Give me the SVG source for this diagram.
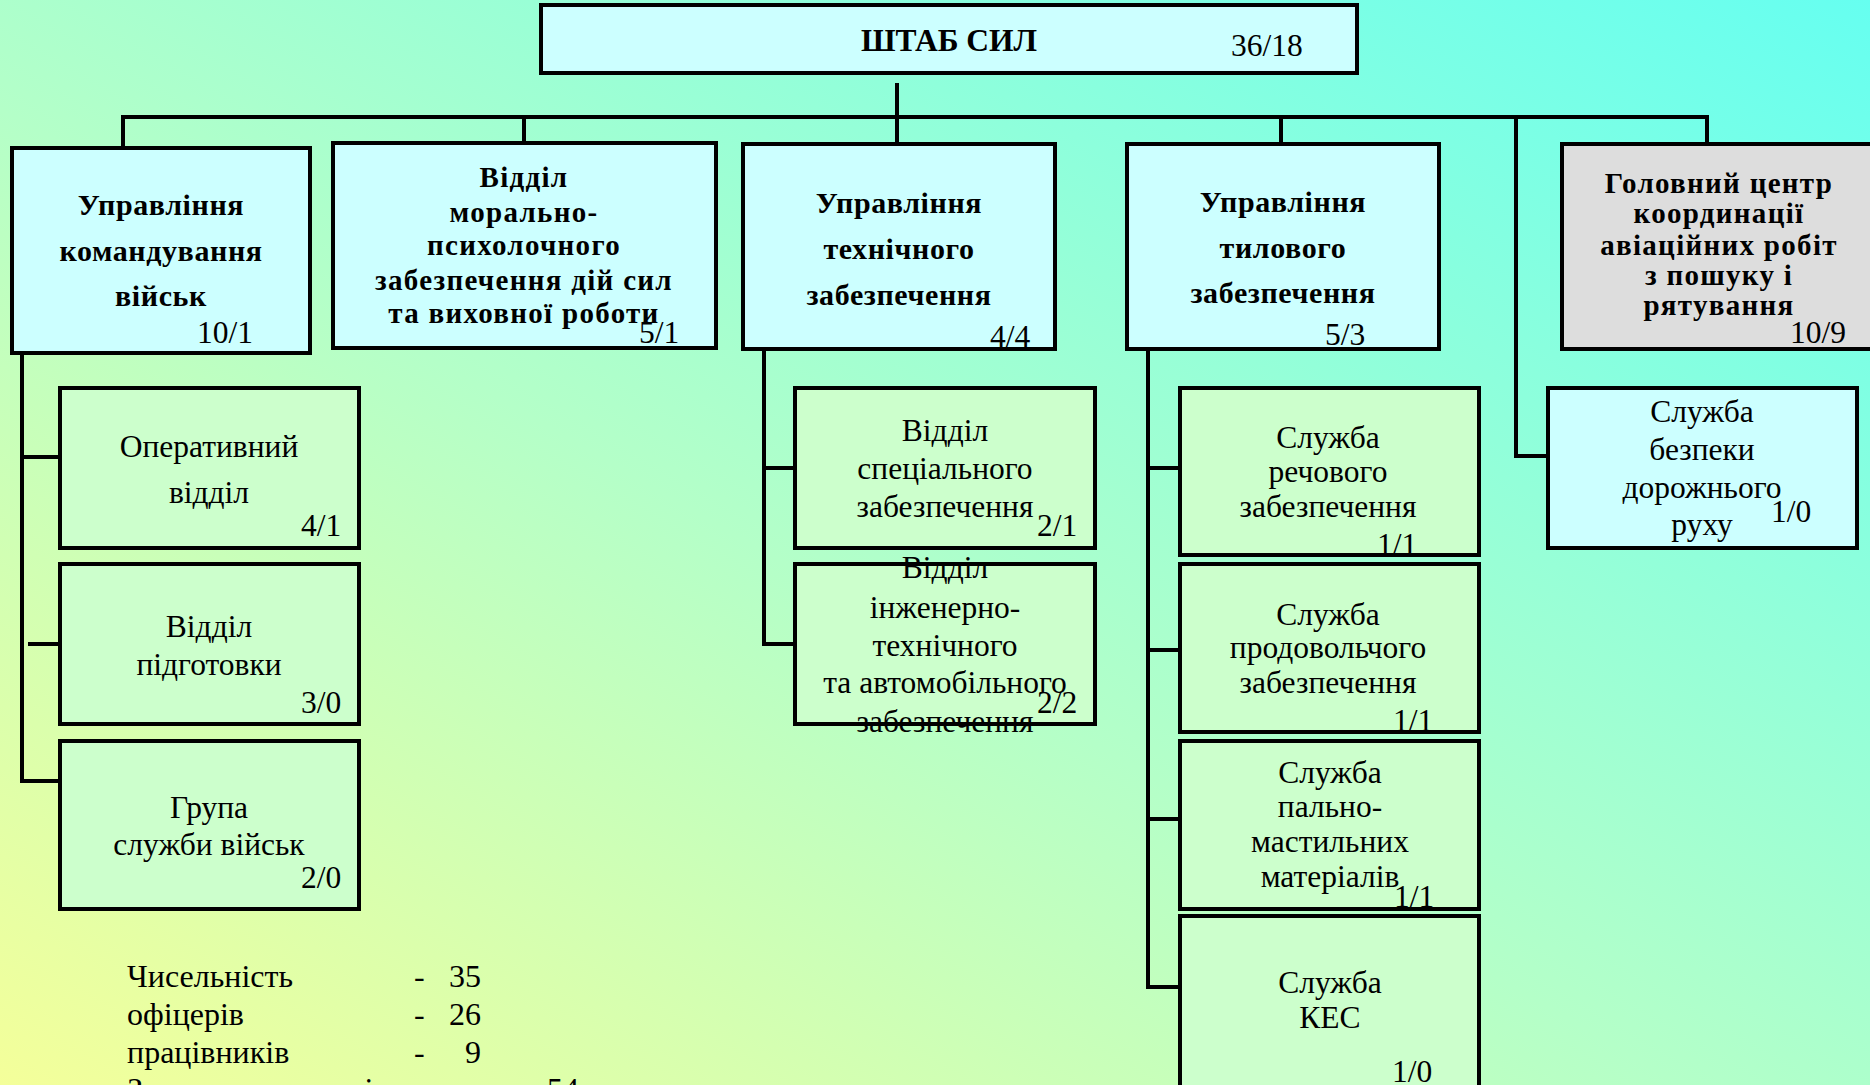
<svg xmlns="http://www.w3.org/2000/svg" width="1870" height="1085" viewBox="0 0 1870 1085">
<defs>
<linearGradient id="bg" x1="0" y1="1" x2="1" y2="0">
<stop offset="0" stop-color="#f4ff9a"/>
<stop offset="0.45" stop-color="#b4ffc8"/>
<stop offset="1" stop-color="#66fff0"/>
</linearGradient>
<style>
.box{stroke:#000;stroke-width:4}
.top{fill:#ccffff}
.sub{fill:#ccffcc}
.gray{fill:#dddddd}
.ln{stroke:#000;stroke-width:4;fill:none}
text{font-family:"Liberation Serif","Times New Roman",serif;fill:#000}
.b{font-weight:bold;font-size:30px;letter-spacing:0.6px;text-anchor:middle}
.b2{font-weight:bold;font-size:29px;letter-spacing:1.3px;text-anchor:middle}
.r{font-size:31.5px;text-anchor:middle}
.n{font-size:31.5px}
.s{font-size:32px}
</style>
</defs>
<rect x="0" y="0" width="1870" height="1085" fill="url(#bg)"/>

<g id="connectors">
<line class="ln" x1="897" y1="83" x2="897" y2="144"/>
<line class="ln" x1="123" y1="117" x2="1709" y2="117"/>
<line class="ln" x1="123" y1="115" x2="123" y2="148"/>
<line class="ln" x1="524" y1="115" x2="524" y2="143"/>
<line class="ln" x1="1281" y1="115" x2="1281" y2="144"/>
<line class="ln" x1="1707" y1="115" x2="1707" y2="144"/>
<polyline class="ln" points="1516,115 1516,456 1548,456"/>
<polyline class="ln" points="22,351 22,781 62,781"/>
<line class="ln" x1="22" y1="457" x2="62" y2="457"/>
<line class="ln" x1="28" y1="644" x2="62" y2="644"/>
<polyline class="ln" points="764,349 764,644 795,644"/>
<line class="ln" x1="764" y1="468" x2="795" y2="468"/>
<polyline class="ln" points="1148,349 1148,987 1180,987"/>
<line class="ln" x1="1148" y1="468" x2="1180" y2="468"/>
<line class="ln" x1="1148" y1="650" x2="1180" y2="650"/>
<line class="ln" x1="1148" y1="819" x2="1180" y2="819"/>
</g>

<g id="hq">
<rect class="box top" x="541" y="5" width="816" height="68"/>
<text class="b" x="949" y="51" style="font-size:31.5px;letter-spacing:0">ШТАБ СИЛ</text>
<text class="n" x="1231" y="56">36/18</text>
</g>

<g id="upr-komand">
<rect class="box top" x="12" y="148" width="298" height="205"/>
<text class="b" x="161" y="215">Управління</text>
<text class="b" x="161" y="261">командування</text>
<text class="b" x="161" y="306">військ</text>
<text class="n" x="197" y="343">10/1</text>
</g>

<g id="viddil-moral">
<rect class="box top" x="333" y="143" width="383" height="205"/>
<text class="b2" x="524" y="187">Відділ</text>
<text class="b2" x="524" y="222">морально-</text>
<text class="b2" x="524" y="255">психолочного</text>
<text class="b2" x="524" y="290">забезпечення дій сил</text>
<text class="b2" x="524" y="323">та виховної роботи</text>
<text class="n" x="639" y="343">5/1</text>
</g>

<g id="upr-tekhn">
<rect class="box top" x="743" y="144" width="312" height="205"/>
<text class="b" x="899" y="213">Управління</text>
<text class="b" x="899" y="259">технічного</text>
<text class="b" x="899" y="305">забезпечення</text>
<text class="n" x="990" y="347">4/4</text>
</g>

<g id="upr-tyl">
<rect class="box top" x="1127" y="144" width="312" height="205"/>
<text class="b" x="1283" y="212">Управління</text>
<text class="b" x="1283" y="258">тилового</text>
<text class="b" x="1283" y="303">забезпечення</text>
<text class="n" x="1325" y="345">5/3</text>
</g>

<g id="golovnyi-centr">
<rect class="box gray" x="1562" y="144" width="320" height="205"/>
<text class="b2" x="1719" y="193">Головний центр</text>
<text class="b2" x="1719" y="223">координації</text>
<text class="b2" x="1719" y="255">авіаційних робіт</text>
<text class="b2" x="1719" y="285">з пошуку і</text>
<text class="b2" x="1719" y="315">рятування</text>
<text class="n" x="1790" y="343">10/9</text>
</g>

<g id="operatyvnyi">
<rect class="sub box" x="60" y="388" width="299" height="160"/>
<text class="r" x="209" y="457">Оперативний</text>
<text class="r" x="209" y="503">відділ</text>
<text class="n" x="301" y="536">4/1</text>
</g>

<g id="pidgotovka">
<rect class="sub box" x="60" y="564" width="299" height="160"/>
<text class="r" x="209" y="637">Відділ</text>
<text class="r" x="209" y="675">підготовки</text>
<text class="n" x="301" y="713">3/0</text>
</g>

<g id="grupa">
<rect class="sub box" x="60" y="741" width="299" height="168"/>
<text class="r" x="209" y="818">Група</text>
<text class="r" x="209" y="855">служби військ</text>
<text class="n" x="301" y="888">2/0</text>
</g>

<g id="spec-zab">
<rect class="sub box" x="795" y="388" width="300" height="160"/>
<text class="r" x="945" y="441">Відділ</text>
<text class="r" x="945" y="479">спеціального</text>
<text class="r" x="945" y="517">забезпечення</text>
<text class="n" x="1037" y="536">2/1</text>
</g>

<g id="inzh-tekhn">
<rect class="sub box" x="795" y="564" width="300" height="160"/>
<text class="r" x="945" y="578">Відділ</text>
<text class="r" x="945" y="618">інженерно-</text>
<text class="r" x="945" y="656">технічного</text>
<text class="r" x="945" y="693">та автомобільного</text>
<text class="r" x="945" y="732">забезпечення</text>
<text class="n" x="1037" y="713">2/2</text>
</g>

<g id="rechove">
<rect class="sub box" x="1180" y="388" width="299" height="167"/>
<text class="r" x="1328" y="448">Служба</text>
<text class="r" x="1328" y="482">речового</text>
<text class="r" x="1328" y="517">забезпечення</text>
<text class="n" x="1377" y="555">1/1</text>
</g>

<g id="prodovolche">
<rect class="sub box" x="1180" y="564" width="299" height="168"/>
<text class="r" x="1328" y="625">Служба</text>
<text class="r" x="1328" y="658">продовольчого</text>
<text class="r" x="1328" y="693">забезпечення</text>
<text class="n" x="1393" y="731">1/1</text>
</g>

<g id="pmm">
<rect class="sub box" x="1180" y="741" width="299" height="168"/>
<text class="r" x="1330" y="783">Служба</text>
<text class="r" x="1330" y="817">пально-</text>
<text class="r" x="1330" y="852">мастильних</text>
<text class="r" x="1330" y="887">матеріалів</text>
<text class="n" x="1394" y="907">1/1</text>
</g>

<g id="kes">
<rect class="sub box" x="1180" y="916" width="299" height="180"/>
<text class="r" x="1330" y="993">Служба</text>
<text class="r" x="1330" y="1028">КЕС</text>
<text class="n" x="1392" y="1082">1/0</text>
</g>

<g id="bdr">
<rect class="box top" x="1548" y="388" width="309" height="160"/>
<text class="r" x="1702" y="422">Служба</text>
<text class="r" x="1702" y="460">безпеки</text>
<text class="r" x="1702" y="498">дорожнього</text>
<text class="r" x="1702" y="535">руху</text>
<text class="n" x="1771" y="522">1/0</text>
</g>

<g id="stats">
<text class="s" x="127" y="987">Чисельність</text>
<text class="s" x="414" y="987">-</text>
<text class="s" x="481" y="987" text-anchor="end">35</text>
<text class="s" x="127" y="1025">офіцерів</text>
<text class="s" x="414" y="1025">-</text>
<text class="s" x="481" y="1025" text-anchor="end">26</text>
<text class="s" x="127" y="1063">працівників</text>
<text class="s" x="414" y="1063">-</text>
<text class="s" x="481" y="1063" text-anchor="end">9</text>
<text class="s" x="127" y="1100">Загальна чисельність</text>
<text class="s" x="547" y="1100">54</text>
</g>
</svg>
